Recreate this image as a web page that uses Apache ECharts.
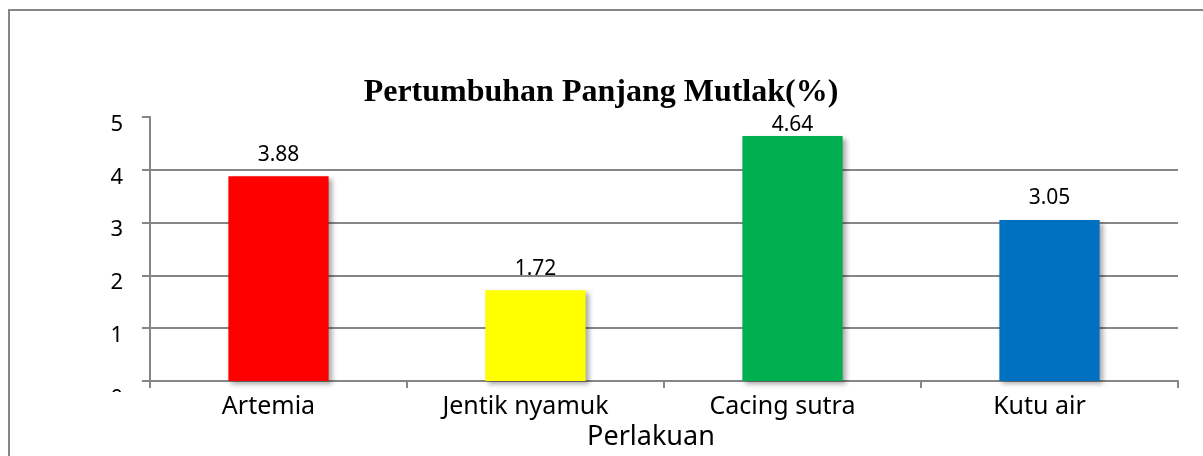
<!DOCTYPE html>
<html><head><meta charset="utf-8">
<script src="https://cdn.jsdelivr.net/npm/echarts@6/dist/echarts.min.js"></script>
<style>html,body{margin:0;padding:0;background:#fff}#c{width:1203px;height:456px}</style>
</head><body><div id="c"></div>
<script>
var categories = ['Artemia', 'Jentik nyamuk', 'Cacing sutra', 'Kutu air'];
var values = [3.88, 1.72, 4.64, 3.05];
var barColors = ['#FF0000', '#FFFF00', '#00B050', '#0070C0'];
var yTicks = [0, 1, 2, 3, 4, 5];

var chart = echarts.init(document.getElementById('c'));
var yMax = yTicks[yTicks.length - 1];
chart.setOption({
  animation: false,
  backgroundColor: '#fff',
  title: {
    text: 'Pertumbuhan Panjang Mutlak(%)',
    left: 596, top: 72, textAlign: 'center',
    textStyle: {fontFamily: 'Liberation Serif', fontWeight: 'bold', fontSize: 32, color: '#000'}
  },
  graphic: [
    {type: 'rect', z: 100, silent: true, shape: {x: 9, y: 10, width: 1400, height: 800},
     style: {fill: 'none', stroke: '#868686', lineWidth: 2}},
    {type: 'rect', z: 100, silent: true, shape: {x: 60, y: 392, width: 80, height: 20},
     style: {fill: '#fff'}}
  ],
  grid: {left: 150, right: 25, top: 117, bottom: 75, containLabel: false, outerBoundsMode: 'none'},
  xAxis: {
    type: 'category', data: categories,
    name: 'Perlakuan', nameLocation: 'middle', nameGap: 43,
    nameTextStyle: {fontFamily: 'Noto Sans', fontSize: 27, color: '#000', padding: [0, 26, 0, 0]},
    axisLine: {show: true, lineStyle: {color: '#868686', width: 2}},
    axisTick: {show: true, alignWithLabel: false, length: 7, lineStyle: {color: '#868686', width: 2}},
    axisLabel: {fontFamily: 'Noto Sans', fontSize: 25, color: '#000', margin: 13, padding: [0, 20, 0, 0]}
  },
  yAxis: {
    type: 'value', min: yTicks[0], max: yMax, interval: 1,
    axisLine: {show: true, lineStyle: {color: '#868686', width: 2}},
    axisTick: {show: true, length: 8, lineStyle: {color: '#868686', width: 2}},
    splitLine: {show: true, showMaxLine: false, lineStyle: {color: '#868686', width: 2}},
    axisLabel: {color: '#000', margin: 27,
      formatter: function (v) { return (v === yTicks[0] ? '{z|' : '{v|') + v + '}'; },
      rich: {
        v: {fontFamily: 'Noto Sans', fontSize: 22, color: '#000', height: 22, lineHeight: 22, padding: [15, 0, 0, 0]},
        z: {fontFamily: 'Noto Sans', fontSize: 22, color: '#000', height: 22, lineHeight: 22, padding: [35, 0, 0, 0]}
      }}
  },
  series: [{
    type: 'bar', barWidth: '39%',
    data: values.map(function (v, i) {
      return {value: v, itemStyle: {color: barColors[i]},
        label: {distance: (yMax - v) < 0.5 ? 0 : 11}};
    }),
    itemStyle: {shadowColor: 'rgba(0,0,0,0.35)', shadowBlur: 5, shadowOffsetX: 3, shadowOffsetY: 3},
    label: {show: true, position: 'top', fontFamily: 'Noto Sans', fontSize: 21, color: '#000',
      formatter: function (p) { return p.value.toFixed(2); }}
  }]
});
</script></body></html>
